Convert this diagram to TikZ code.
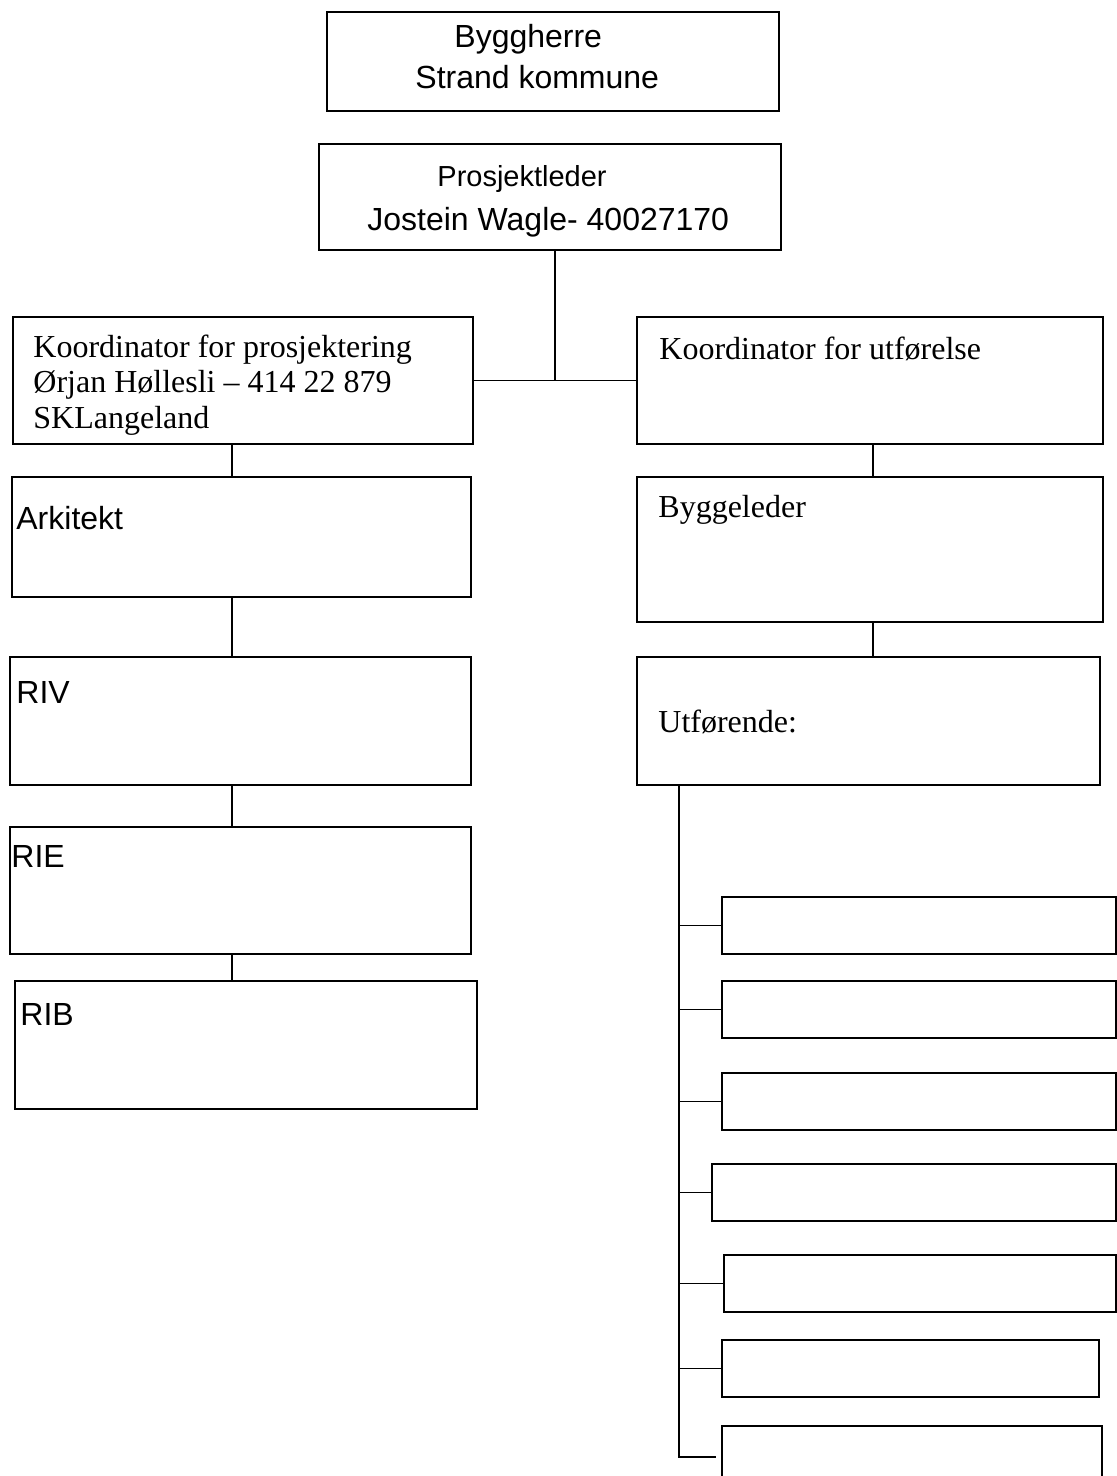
\documentclass[tikz,border=0pt]{standalone}
\usepackage{fontspec}
\setmainfont{Liberation Serif}
\setsansfont{Liberation Sans}
\usetikzlibrary{fit}

\tikzset{
  box/.style={draw, line width=0.9pt, inner sep=0pt},
  link/.style={line width=0.9pt},
  arial/.style={font=\sffamily\fontsize{16}{20}\selectfont, inner sep=0pt, anchor=base west},
  times/.style={font=\rmfamily\fontsize{16}{17.75}\selectfont, inner sep=0pt, anchor=base west, align=left},
}

\begin{document}
\begin{tikzpicture}[x=0.5pt, y=-0.5pt]
  \useasboundingbox (0,0) rectangle (1117,1476);
  % top: byggherre and prosjektleder
  \node[box, fit={(327,12) (779,111)}] (bh) {};
  \node[arial] (bhname) at (454,48) {Byggherre};
  \node[arial] (bhorg) at (415,89) {Strand kommune};
  \node[box, fit={(319,144) (781,250)}] (pl) {};
  \node[arial, font=\sffamily\fontsize{14.5}{18}\selectfont] (plname) at (437,187) {Prosjektleder};
  \node[arial] (plperson) at (367,231) {Jostein Wagle- 40027170};

  % koordinators (base of a multi-line node = its last line)
  \node[box, fit={(13,317) (473,444)}] (kp) {};
  \node[times] (kptxt) at (33,428) {Koordinator for prosjektering\\Ørjan Høllesli – 414 22 879\\SKLangeland};
  \node[box, fit={(637,317) (1103,444)}] (ku) {};
  \node[times] (kutxt) at (659,359) {Koordinator for utførelse};

  % prosjektering (left)
  \node[box, fit={(12,477) (471,597)}] (ark) {};
  \node[arial] (arktxt) at (16,529) {Arkitekt};
  \node[box, fit={(10,657) (471,785)}] (riv) {};
  \node[arial] (rivtxt) at (16,703) {RIV};
  \node[box, fit={(10,827) (471,954)}] (rie) {};
  \node[arial] (rietxt) at (11,867) {RIE};
  \node[box, fit={(15,981) (477,1109)}] (rib) {};
  \node[arial] (ribtxt) at (20,1025) {RIB};

  % utforelse (right)
  \node[box, fit={(637,477) (1103,622)}] (bl) {};
  \node[times] (bltxt) at (658,517) {Byggeleder};
  \node[box, fit={(637,657) (1100,785)}] (ut) {};
  \node[times] (uttxt) at (658,732) {Utførende:};
  \foreach \n/\l/\t/\r in {1/722/897/1116, 2/722/981/1116, 3/722/1073/1116,
      4/712/1164/1116, 5/724/1255/1116, 6/722/1340/1099, 7/722/1426/1102}
    \node[box, fit={(\l,\t) (\r,{\t+57})}] (u\n) {};

  % connectors
  \coordinate (mx) at (555,0);
  \coordinate (lx) at (232,0);
  \coordinate (rx) at (873,0);
  \coordinate (tx) at (679,0);
  \coordinate (tend) at (716,1457);
  \draw[link] (pl.south -| mx) -- (kp.east -| mx);
  \draw[link] (kp.east) -- (ku.west);
  \draw[link] (kp.south -| lx) -- (ark.north -| lx);
  \draw[link] (ark.south -| lx) -- (riv.north -| lx);
  \draw[link] (riv.south -| lx) -- (rie.north -| lx);
  \draw[link] (rie.south -| lx) -- (rib.north -| lx);
  \draw[link] (ku.south -| rx) -- (bl.north -| rx);
  \draw[link] (bl.south -| rx) -- (ut.north -| rx);
  \draw[link] (ut.south -| tx) |- (tend);
  \foreach \n in {1,...,6}
    \draw[link] (u\n.west -| tx) -- (u\n.west);
\end{tikzpicture}
\end{document}
